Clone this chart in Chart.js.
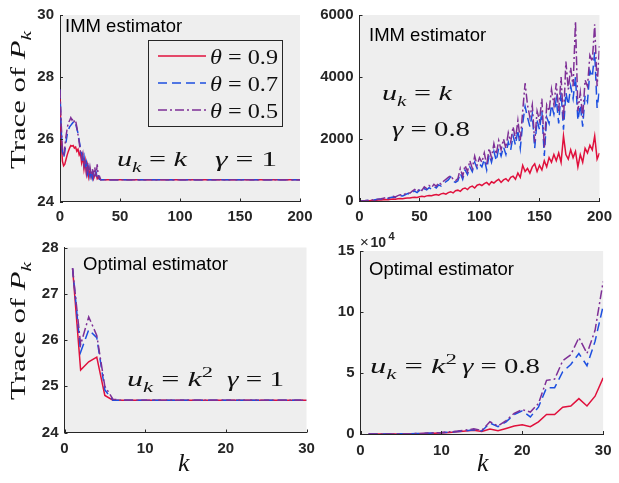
<!DOCTYPE html>
<html>
<head>
<meta charset="utf-8">
<script src="https://cdn.jsdelivr.net/npm/chart.js@4.4.1/dist/chart.umd.min.js"></script>
<style>
  html, body { margin: 0; padding: 0; background: #fff; }
  #fig { position: relative; width: 619px; height: 483px; overflow: hidden; }
  #fig canvas { position: absolute; left: 0; top: 0; }
</style>
</head>
<body>
<div id="fig">
  <canvas id="c1" width="619" height="483"></canvas>
  <canvas id="c2" width="619" height="483"></canvas>
  <canvas id="c3" width="619" height="483"></canvas>
  <canvas id="c4" width="619" height="483"></canvas>
</div>
<script>
// ===============================
// Datos
// ===============================
// Arriba izquierda: IMM, u_k = k, gamma = 1
const kImmA = [0,1,2,3,4,5,6,7,8,9,10,11,12,13,14,15,16,17,18,19,20,21,22,23,24,25,26,27,28,29,30,31,32,33,34,35,36,37,38,39,40,200];
const immA09 = [27.3,26.0,25.3,25.15,25.2,25.35,25.5,25.62,25.72,25.8,25.78,25.8,25.72,25.75,25.62,25.68,25.5,25.58,25.25,25.45,25.05,25.3,24.9,25.15,24.8,25.0,24.78,24.92,24.74,24.85,24.9,24.74,24.8,24.72,24.7,24.7,24.7,24.7,24.7,24.7,24.7,24.7];
const immA07 = [27.6,26.3,25.6,25.4,25.6,25.9,26.15,26.3,26.4,26.45,26.5,26.55,26.6,26.5,26.35,26.2,25.95,25.75,25.5,25.3,25.45,25.05,25.25,24.9,25.1,24.8,25.0,24.75,24.9,24.78,24.95,24.75,24.85,24.72,24.7,24.7,24.7,24.7,24.7,24.7,24.7,24.7];
const immA05 = [27.6,26.5,25.7,25.45,25.75,26.1,26.35,26.55,26.6,26.7,26.62,26.68,26.55,26.6,26.4,26.15,25.9,25.6,25.4,25.55,25.15,25.35,24.95,25.25,24.82,25.1,24.85,25.05,24.8,25.1,24.78,25.2,24.75,24.8,24.7,24.7,24.7,24.7,24.7,24.7,24.7,24.7];

// Arriba derecha: IMM, u_k = k, gamma = 0.8 (cada 2 pasos)
const kImmB = Array.from({ length: 101 }, (_, i) => 2 * i);
const immB09 = [0,2,5,8,12,16,20,25,30,36,42,
  48,44,55,62,58,70,78,72,90,100,
  95,110,120,115,135,150,140,165,180,170,
  195,210,190,230,250,220,270,300,260,330,
  350,310,390,420,370,450,480,420,510,540,
  500,560,600,520,620,580,650,700,600,680,
  720,640,760,800,700,900,760,1150,950,1050,
  900,1100,1200,950,1150,1000,1300,1100,1400,1250,
  1500,1300,1550,1250,2100,1500,1350,1650,1400,1600,
  1100,1500,1250,1700,1550,1800,1650,2100,1350,1550];
const immB07 = [0,3,8,14,20,28,36,45,55,65,80,
  95,85,110,130,115,150,175,160,200,240,
  220,280,320,270,350,300,400,360,430,380,
  470,420,520,480,560,620,680,780,640,600,
  650,900,700,1000,850,1100,950,1250,1050,1200,
  1100,1350,1000,1500,1250,1600,1300,1700,1450,1750,
  1500,1900,1650,2100,1800,2300,1700,2500,3050,2700,
  2400,2800,1700,2600,2300,2900,1450,2700,2500,3100,
  2800,3300,2500,3500,2300,3500,3100,3700,3300,4000,
  2600,3100,2400,3400,3200,4200,4000,4800,3000,3600];
const immB05 = [0,3,9,16,23,32,42,52,62,75,92,
  110,95,125,150,130,175,200,180,230,280,
  250,320,370,300,400,340,460,400,500,430,
  540,470,600,540,640,700,760,820,700,650,
  720,1050,800,1150,950,1300,1050,1450,1150,1400,
  1250,1550,1150,1700,1400,1850,1500,1950,1650,2000,
  1700,2200,1900,2400,2000,2600,1950,2900,3800,3100,
  2700,3100,1900,2900,2600,3300,1700,3100,2900,3600,
  3100,3800,2900,4000,2600,4500,3600,4300,3700,5800,
  2900,3500,2700,3900,3700,4700,4500,5700,3700,5000];

// Abajo: estimador óptimo, k = 1..30
const kOpt = [1,2,3,4,5,6,7,8,9,10,11,12,13,14,15,16,17,18,19,20,21,22,23,24,25,26,27,28,29,30];
const optA09 = [27.55,25.35,25.53,25.63,24.8,24.7,24.7,24.7,24.7,24.7,24.7,24.7,24.7,24.7,24.7,24.7,24.7,24.7,24.7,24.7,24.7,24.7,24.7,24.7,24.7,24.7,24.7,24.7,24.7,24.7];
const optA07 = [27.55,25.74,26.22,26.05,24.92,24.7,24.7,24.7,24.7,24.7,24.7,24.7,24.7,24.7,24.7,24.7,24.7,24.7,24.7,24.7,24.7,24.7,24.7,24.7,24.7,24.7,24.7,24.7,24.7,24.7];
const optA05 = [27.55,25.9,26.5,26.1,25.0,24.72,24.7,24.7,24.7,24.7,24.7,24.7,24.7,24.7,24.7,24.7,24.7,24.7,24.7,24.7,24.7,24.7,24.7,24.7,24.7,24.7,24.7,24.7,24.7,24.7];
const optB09 = [5,10,20,40,80,150,250,400,600,900,1300,1800,2400,3000,2000,4000,2600,4500,6500,7500,6000,10000,16000,16000,22000,23000,29000,23000,31000,46000];
const optB07 = [5,15,30,60,120,200,350,550,800,1100,1500,2000,2600,3500,2500,9000,6000,10000,16000,19000,14000,22000,38000,38000,51000,57000,66000,56000,76000,105000];
const optB05 = [5,15,35,70,140,240,400,650,950,1300,1800,2400,3200,4200,3000,10000,6500,11000,17000,20000,18000,25000,44000,45000,60000,65000,79000,66000,85000,125000];

// ticks
const xTicksImm = [0, 50, 100, 150, 200];
const xTicksOpt = [0, 10, 20, 30];
const thetas = ['0.9', '0.7', '0.5'];

// ===============================
// Estilos
// ===============================
const INK = '#262626';
const BG = '#eeeeee';
const SERIF = '"Liberation Serif", "Times New Roman", serif';
const SANS = '"Liberation Sans", Arial, sans-serif';
const TICKFONT = { family: SANS, size: 15, weight: 'bold' };

const RED = { borderColor: '#e0103c', borderWidth: 1.5, order: 2 };
const BLUE = { borderColor: '#1d4fe0', borderWidth: 1.5, borderDash: [9, 5], order: 1 };
const PURP = { borderColor: '#7e2f96', borderWidth: 1.5, borderDash: [9, 3, 2, 3], order: 0 };
const STYLES = [RED, BLUE, PURP];

function serie(xs, ys, st) {
  return Object.assign({ data: xs.map((x, i) => ({ x: x, y: ys[i] })), pointRadius: 0, fill: false, tension: 0 }, st);
}

// texto tipo LaTeX: partes [texto, estilo] con estilo i | r | sub | sup
function mathText(ctx, parts, x, y, size, width) {
  const fontOf = st => {
    if (st === 'i') return 'italic ' + size + 'px ' + SERIF;
    if (st === 'sub') return 'italic ' + (size * 0.7) + 'px ' + SERIF;
    if (st === 'sup') return (size * 0.7) + 'px ' + SERIF;
    return size + 'px ' + SERIF;
  };
  let w = 0;
  parts.forEach(p => { ctx.font = fontOf(p[1]); w += ctx.measureText(p[0]).width; });
  const sx = width ? width / w : 1;
  ctx.save();
  ctx.translate(x, y);
  ctx.scale(sx, 1);
  ctx.fillStyle = '#111';
  ctx.textBaseline = 'alphabetic';
  ctx.textAlign = 'left';
  let cx = 0;
  parts.forEach(p => {
    ctx.font = fontOf(p[1]);
    const dy = p[1] === 'sub' ? size * 0.25 : (p[1] === 'sup' ? -size * 0.4 : 0);
    ctx.fillText(p[0], cx, dy);
    cx += ctx.measureText(p[0]).width;
  });
  ctx.restore();
}

function plainText(ctx, txt, x, y, size, weight) {
  ctx.save();
  ctx.font = (weight || '') + ' ' + size + 'px ' + SANS;
  ctx.fillStyle = '#000';
  ctx.textAlign = 'left';
  ctx.textBaseline = 'alphabetic';
  ctx.fillText(txt, x, y);
  ctx.restore();
}

function yTitle(ctx, cy) {
  ctx.save();
  ctx.translate(25, cy);
  ctx.rotate(-Math.PI / 2);
  mathText(ctx, [['Trace of ', 'r'], ['P', 'i'], ['k', 'sub']], -69, 0, 22, 138);
  ctx.restore();
}

// ===============================
// Panel genérico
// ===============================
function panel(id, area, xs, ys, sets, extra) {
  const W = 619, H = 483, YW = 45, XH = 30;
  const deco = {
    id: 'deco',
    beforeDraw(chart) {
      const a = chart.chartArea, ctx = chart.ctx;
      ctx.save();
      ctx.fillStyle = BG;
      ctx.fillRect(a.left, a.top, a.right - a.left, a.bottom - a.top);
      ctx.restore();
    },
    afterDraw(chart) {
      const ctx = chart.ctx, a = chart.chartArea;
      const sx = chart.scales.x, sy = chart.scales.y;
      // marcas hacia dentro
      ctx.save();
      ctx.strokeStyle = INK;
      ctx.lineWidth = 1;
      ctx.beginPath();
      sx.ticks.forEach(t => {
        const px = Math.round(sx.getPixelForValue(t.value)) + 0.5;
        ctx.moveTo(px, a.bottom); ctx.lineTo(px, a.bottom - 3);
      });
      sy.ticks.forEach(t => {
        const py = Math.round(sy.getPixelForValue(t.value)) + 0.5;
        ctx.moveTo(a.left, py); ctx.lineTo(a.left + 3, py);
      });
      ctx.stroke();
      ctx.restore();
      if (extra) extra(ctx, chart);
    }
  };
  return new Chart(document.getElementById(id), {
    type: 'line',
    data: { datasets: sets },
    options: {
      responsive: false,
      animation: false,
      events: [],
      layout: { padding: { left: area.l - YW, right: W - area.r, top: area.t, bottom: H - area.b - XH } },
      plugins: { legend: { display: false }, tooltip: { enabled: false } },
      scales: {
        x: {
          type: 'linear', min: xs.min, max: xs.max,
          afterBuildTicks: s => { s.ticks = xs.ticks.map(v => ({ value: v })); },
          ticks: { color: INK, font: TICKFONT, padding: xs.pad, maxRotation: 0, autoSkip: false, callback: v => String(v) },
          grid: { display: false, drawTicks: false },
          border: { color: INK, width: 1 },
          afterFit: s => { s.height = XH; }
        },
        y: {
          type: 'linear', min: ys.min, max: ys.max,
          afterBuildTicks: s => { s.ticks = ys.ticks.map(v => ({ value: v })); },
          ticks: { color: INK, font: TICKFONT, padding: 6, callback: ys.fmt || (v => String(v)) },
          grid: { display: false, drawTicks: false },
          border: { color: INK, width: 1 },
          afterFit: s => { s.width = YW; }
        }
      }
    },
    plugins: [deco]
  });
}

// ===============================
// Panel 1: IMM, u_k = k, gamma = 1
// ===============================
panel('c1', { l: 60, r: 300, t: 14.5, b: 201.5 },
  { min: 0, max: 200, ticks: xTicksImm, pad: 6.5 },
  { min: 24, max: 30, ticks: [24, 26, 28, 30] },
  [immA09, immA07, immA05].map((v, i) => serie(kImmA, v, STYLES[i])),
  (ctx) => {
    plainText(ctx, 'IMM estimator', 65, 32, 18.5);
    mathText(ctx, [['u', 'i'], ['k', 'sub'], [' = ', 'r'], ['k', 'i']], 117, 166, 22, 70);
    mathText(ctx, [['γ', 'i'], [' = 1', 'r']], 215, 166, 22, 62);
    yTitle(ctx, 100);
    // leyenda
    ctx.save();
    ctx.fillStyle = BG;
    ctx.fillRect(148.5, 40.5, 134, 86);
    ctx.strokeStyle = INK;
    ctx.lineWidth = 1;
    ctx.strokeRect(148.5, 40.5, 134, 86);
    const ly = [56, 83, 110];
    STYLES.forEach((st, i) => {
      ctx.strokeStyle = st.borderColor;
      ctx.lineWidth = st.borderWidth;
      ctx.setLineDash(st.borderDash || []);
      ctx.beginPath();
      ctx.moveTo(158, ly[i]); ctx.lineTo(206, ly[i]);
      ctx.stroke();
    });
    ctx.setLineDash([]);
    ctx.restore();
    thetas.forEach((t, i) => mathText(ctx, [['θ', 'i'], [' = ' + t, 'r']], 210, ly[i] + 7.5, 22, 68));
  });

// ===============================
// Panel 2: IMM, u_k = k, gamma = 0.8
// ===============================
panel('c2', { l: 359.5, r: 606, t: 13, b: 201 },
  { min: 0, max: 200, ticks: xTicksImm, pad: 7 },
  { min: 0, max: 6000, ticks: [0, 2000, 4000, 6000] },
  [immB09, immB07, immB05].map((v, i) => serie(kImmB, v, STYLES[i])),
  (ctx) => {
    plainText(ctx, 'IMM estimator', 369, 40.5, 18.5);
    mathText(ctx, [['u', 'i'], ['k', 'sub'], [' = ', 'r'], ['k', 'i']], 382, 100, 22, 70);
    mathText(ctx, [['γ', 'i'], [' = 0.8', 'r']], 392, 136, 22, 78);
  });

// ===============================
// Panel 3: óptimo, u_k = k^2, gamma = 1
// ===============================
panel('c3', { l: 64.5, r: 306.5, t: 247.5, b: 432.5 },
  { min: 0, max: 30, ticks: xTicksOpt, pad: 7.5 },
  { min: 24, max: 28, ticks: [24, 25, 26, 27, 28] },
  [optA09, optA07, optA05].map((v, i) => serie(kOpt, v, STYLES[i])),
  (ctx) => {
    plainText(ctx, 'Optimal estimator', 83, 269.5, 18.5);
    mathText(ctx, [['u', 'i'], ['k', 'sub'], [' = ', 'r'], ['k', 'i'], ['2', 'sup']], 127, 386, 22, 86);
    mathText(ctx, [['γ', 'i'], [' = 1', 'r']], 227, 386, 22, 57);
    yTitle(ctx, 331);
    mathText(ctx, [['k', 'i']], 178, 471, 26);
  });

// ===============================
// Panel 4: óptimo, u_k = k^2, gamma = 0.8
// ===============================
panel('c4', { l: 360.5, r: 605, t: 251, b: 434 },
  { min: 0, max: 30, ticks: xTicksOpt, pad: 7.5 },
  { min: 0, max: 150000, ticks: [0, 50000, 100000, 150000], fmt: v => String(v / 10000) },
  [optB09, optB07, optB05].map((v, i) => serie(kOpt, v, STYLES[i])),
  (ctx) => {
    plainText(ctx, 'Optimal estimator', 369, 275, 18.5);
    mathText(ctx, [['u', 'i'], ['k', 'sub'], [' = ', 'r'], ['k', 'i'], ['2', 'sup']], 370, 373, 22, 87);
    mathText(ctx, [['γ', 'i'], [' = 0.8', 'r']], 462, 373, 22, 78);
    mathText(ctx, [['k', 'i']], 477, 471, 26);
    // x10^4
    ctx.save();
    ctx.fillStyle = INK;
    ctx.font = '15px ' + SANS;
    ctx.fillText('×', 360, 247);
    ctx.font = 'bold 14px ' + SANS;
    ctx.fillText('10', 370.5, 247);
    ctx.font = 'bold 11px ' + SANS;
    ctx.fillText('4', 388.5, 240);
    ctx.restore();
  });
</script>
</body>
</html>
